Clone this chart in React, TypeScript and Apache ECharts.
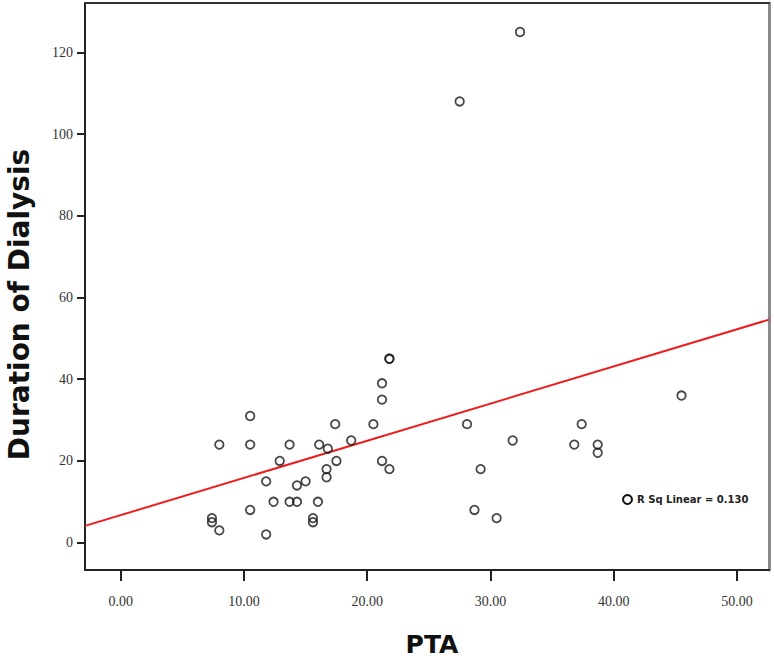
import React, { useEffect, useRef } from "react";
import * as echarts from "echarts";

// PTA values (x) and Duration of Dialysis values (y)
const ptaValues = [
  32.4, 27.5, 21.8, 21.8, 21.2, 21.2, 45.5, 17.4, 20.5, 28.1, 37.4, 10.5,
  18.7, 31.8, 8.0, 10.5, 13.7, 16.1, 36.8, 38.7, 16.8, 38.7, 12.9, 17.5,
  21.2, 21.8, 16.7, 29.2, 16.7, 11.8, 15.0, 14.3, 12.4, 13.7, 14.3, 16.0,
  10.5, 28.7, 7.4, 7.4, 15.6, 15.6, 30.5, 8.0, 11.8,
];
const dialysisValues = [
  125, 108, 45, 45, 39, 35, 36, 29, 29, 29, 29, 31,
  25, 25, 24, 24, 24, 24, 24, 24, 23, 22, 20, 20,
  20, 18, 18, 18, 16, 15, 15, 14, 10, 10, 10, 10,
  8, 8, 6, 5, 6, 5, 6, 3, 2,
];

// Fit line end points (x, y)
const fitX = [-2.9, 52.6];
const fitY = [4.1, 54.6];
const fitLabel = "R Sq Linear = 0.130";

const xTicks = [0, 10, 20, 30, 40, 50];
const yTicks = [0, 20, 40, 60, 80, 100, 120];
const xRange = [-2.9, 52.6];
const yRange = [-6.7, 132.1];

export default function App() {
  const ref = useRef<HTMLDivElement>(null);

  useEffect(() => {
    if (!ref.current) return;
    const chart = echarts.init(ref.current, null, { renderer: "svg" });
    const points = ptaValues.map((x, i) => [x, dialysisValues[i]]);
    const fitLine = fitX.map((x, i) => [x, fitY[i]]);
    const serif = "'Liberation Serif', 'DejaVu Serif', serif";
    const sans = "'DejaVu Sans', 'Liberation Sans', sans-serif";

    chart.setOption({
      animation: false,
      backgroundColor: "#ffffff",
      grid: { left: 85, right: 5, top: 3, bottom: 100, outerBoundsMode: "none", containLabel: false },
      legend: {
        left: 617,
        top: 489,
        itemWidth: 9,
        itemHeight: 9,
        itemGap: 2,
        data: [
          {
            name: fitLabel,
            icon: "circle",
            itemStyle: { color: "transparent", borderColor: "#111", borderWidth: 2 },
          },
        ],
        textStyle: { fontFamily: sans, fontSize: 10, fontWeight: "bold", color: "#222" },
      },
      xAxis: [
        {
          type: "value",
          min: xRange[0],
          max: xRange[1],
          name: "PTA",
          nameLocation: "middle",
          nameGap: 62,
          nameTextStyle: { fontFamily: sans, fontSize: 25, fontWeight: "bold", color: "#111", padding: [0, 0, 0, 10] },
          splitLine: { show: false },
          axisLine: { show: true, onZero: false, lineStyle: { color: "#222", width: 2 } },
          axisTick: { show: true, inside: false, length: 11, customValues: xTicks, lineStyle: { color: "#222", width: 2 } },
          axisLabel: {
            customValues: xTicks,
            formatter: (v: number) => v.toFixed(2),
            fontFamily: serif,
            fontSize: 14,
            color: "#333",
            margin: 24,
          },
        },
        {
          type: "value",
          position: "top",
          min: xRange[0],
          max: xRange[1],
          splitLine: { show: false },
          axisLine: { show: true, onZero: false, lineStyle: { color: "#333", width: 2 } },
          axisTick: { show: false },
          axisLabel: { show: false },
        },
      ],
      yAxis: [
        {
          type: "value",
          min: yRange[0],
          max: yRange[1],
          name: "Duration of Dialysis",
          nameLocation: "middle",
          nameGap: 52,
          nameTextStyle: { fontFamily: sans, fontSize: 28, fontWeight: "bold", color: "#111", padding: [0, 36, 0, 0] },
          splitLine: { show: false },
          axisLine: { show: true, onZero: false, lineStyle: { color: "#222", width: 2 } },
          axisTick: { show: true, inside: false, length: 8, customValues: yTicks, lineStyle: { color: "#222", width: 2 } },
          axisLabel: {
            customValues: yTicks,
            fontFamily: serif,
            fontSize: 14,
            color: "#333",
            margin: 12,
          },
        },
        {
          type: "value",
          position: "right",
          min: yRange[0],
          max: yRange[1],
          splitLine: { show: false },
          axisLine: { show: true, onZero: false, lineStyle: { color: "#8a8a8a", width: 3 } },
          axisTick: { show: false },
          axisLabel: { show: false },
        },
      ],
      series: [
        {
          type: "scatter",
          name: "points",
          data: points,
          symbol: "circle",
          symbolSize: 8.5,
          itemStyle: { color: "transparent", borderColor: "#1a1a1a", borderWidth: 1.8 },
          z: 3,
        },
        {
          type: "line",
          name: fitLabel,
          data: fitLine,
          symbol: "none",
          lineStyle: { color: "#ee1c1c", width: 2 },
          z: 2,
        },
      ],
    });
    return () => chart.dispose();
  }, []);

  return <div ref={ref} style={{ width: 774, height: 670, position: "absolute", left: 0, top: 0 }} />;
}
